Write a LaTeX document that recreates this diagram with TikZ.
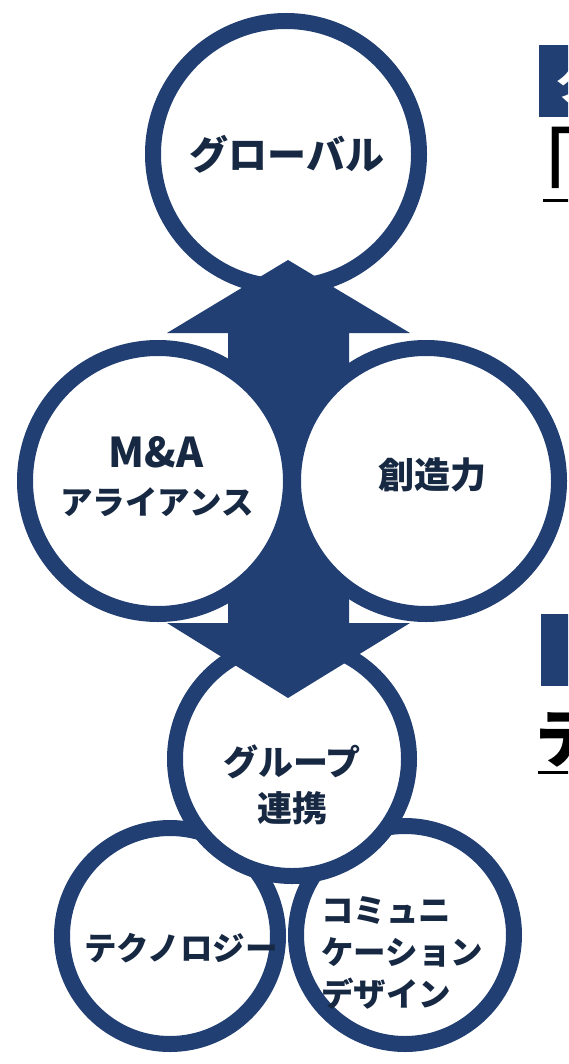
\documentclass[tikz,border=0pt]{standalone}
\usepackage{fontspec}
\newfontfamily\jp{Noto Sans CJK JP}
\definecolor{navy}{RGB}{33,63,115}
\definecolor{ink}{RGB}{22,40,66}
\begin{document}
\begin{tikzpicture}[x=1pt,y=-1pt,
  ring/.style={circle,draw=navy,line width=16pt,fill=white,inner sep=0pt},
  lbl/.style={text=ink,font=\jp\bfseries\fontsize{35}{46}\selectfont,align=center,inner sep=0pt},
  head/.style={text=black,font=\jp\bfseries\fontsize{64}{70}\selectfont,inner sep=0pt,anchor=west},
]
\useasboundingbox (0,0) rectangle (568,1064);
\clip (0,0) rectangle (568,1064);
% top circle
\node[ring,minimum size=266pt] (glob) at (286,154) {};
% bottom circles
\node[ring,minimum size=218pt] (comm) at (405,935) {};
\node[ring,minimum size=216pt] (tech) at (170,936) {};
% group circle
\node[ring,minimum size=234pt] (grp) at (292,759) {};
% double arrow
\fill[navy] (288,260) -- (410,333) -- (349,333) -- (349,623) -- (410,623)
  -- (288,698) -- (167,623) -- (228,623) -- (228,333) -- (167,333) -- cycle;
% middle circles
\node[ring,minimum size=266pt] (ma) at (158,481) {};
\node[ring,minimum size=266pt] (cre) at (426,481) {};
% labels
\node[lbl,font=\jp\bfseries\fontsize{39}{40}\selectfont] (tglob) at (287,154) {グローバル};
\node[lbl,font=\jp\bfseries\fontsize{41}{40}\selectfont] (tma1) at (156,452) {M\&A};
\node[lbl,font=\jp\bfseries\fontsize{32.5}{40}\selectfont] (tma2) at (157,502) {アライアンス};
\node[lbl,font=\jp\bfseries\fontsize{36}{40}\selectfont] (tcre) at (432,475) {創造力};
\node[lbl] (tgrp) at (292,785) {グループ\\連携};
\node[lbl,font=\jp\bfseries\fontsize{32.5}{40}\selectfont] (ttech) at (181,948) {テクノロジー};
\node[lbl,font=\jp\bfseries\fontsize{32.5}{42}\selectfont,align=left,anchor=west] (tcomm) at (321,953) {コミュニ\\ケーション\\デザイン};
% right-edge headings (cut off)
\fill[navy] (539,45) rectangle (570,117);
\node[head,text=white,font=\jp\bfseries\fontsize{44}{44}\selectfont] (h1a) at (556,81) {グ};
\node[head,font=\jp\fontsize{95}{95}\selectfont] (h1b) at (490,167) {「};
\draw[line width=3pt] (543,201) -- (570,201);
\fill[navy] (541,614) rectangle (570,686);
\node[head] (h2b) at (535,740) {テ};
\draw[line width=3pt] (538,772) -- (570,772);
\end{tikzpicture}
\end{document}
